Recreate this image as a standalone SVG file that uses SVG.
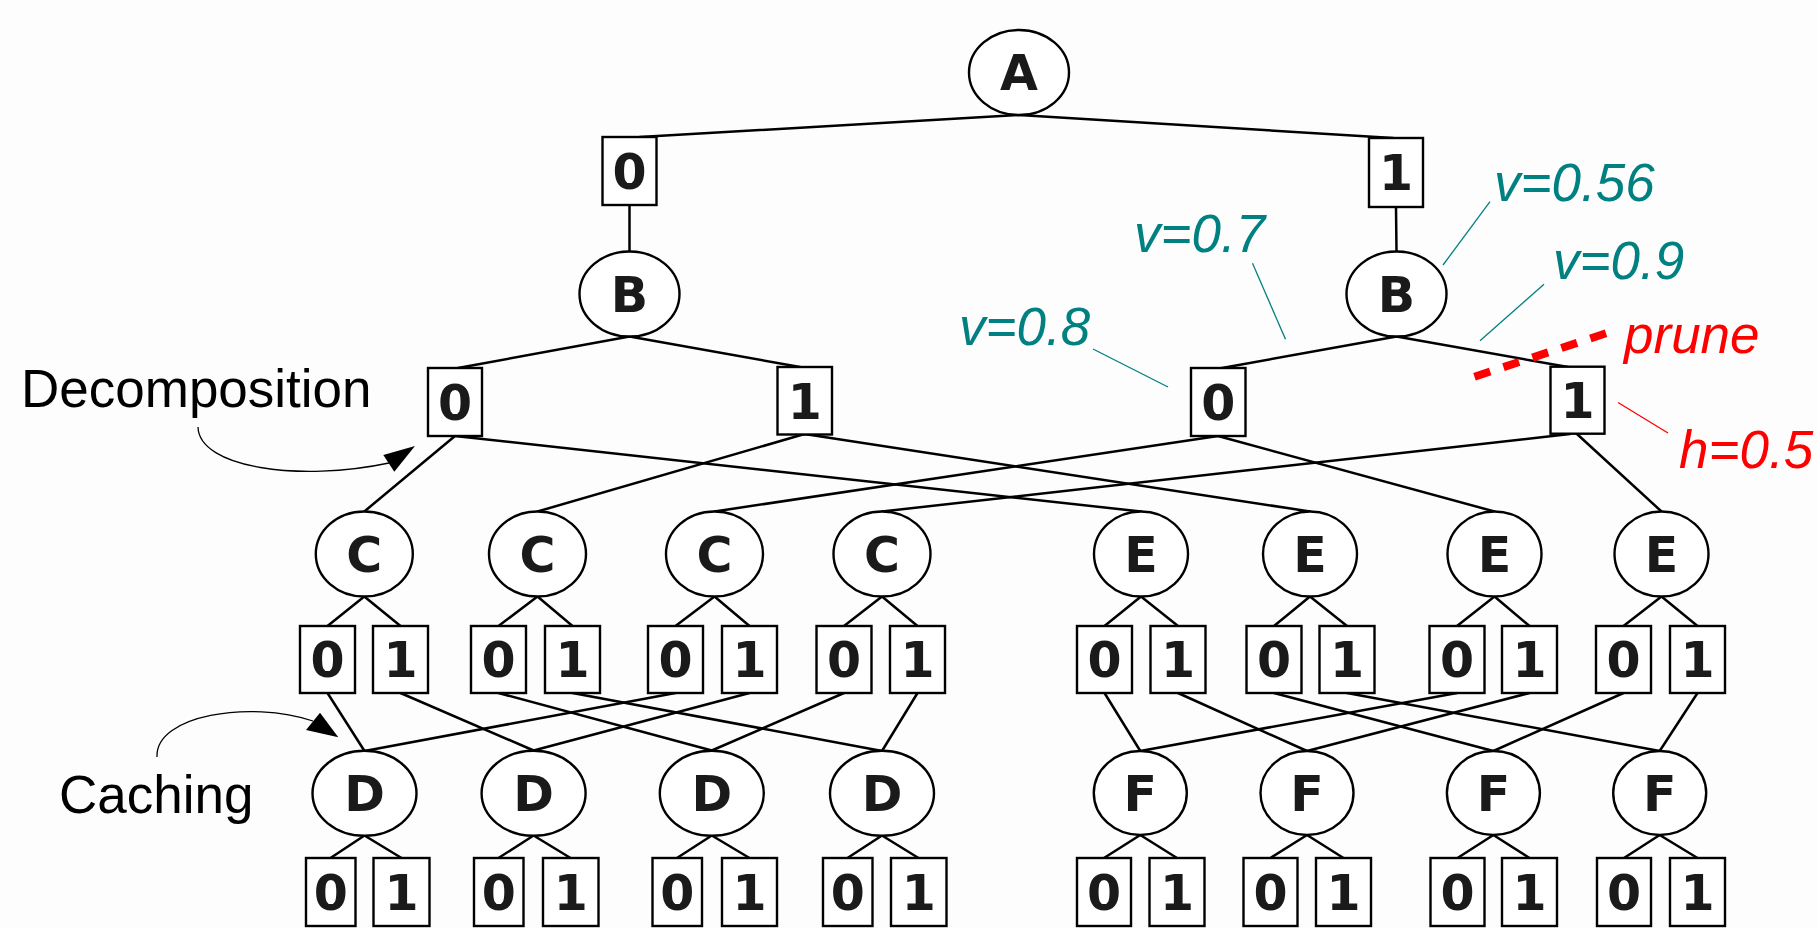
<svg xmlns="http://www.w3.org/2000/svg" width="1818" height="928" viewBox="0 0 1818 928">
  <defs>
    <style>
      .node ellipse, .node rect { fill: #ffffff; stroke: #000000; stroke-width: 2.4; }
      .node text { font-family: "DejaVu Sans", "Noto Sans", sans-serif; font-weight: bold; font-size: 49px; fill: #1a1a1a; text-anchor: middle; }
      .edges line { stroke: #000000; stroke-width: 2.5; stroke-linecap: round; }
      .note { font-family: "Liberation Sans", Arial, sans-serif; font-size: 53px; }
      .val { fill: #008080; font-style: italic; }
      .bad { fill: #ff0000; font-style: italic; }
      .lead { stroke: #008080; stroke-width: 1.3; }
      .lead-red { stroke: #ff0000; stroke-width: 1.3; }
      .callout { fill: none; stroke: #000000; stroke-width: 1.3; }
      .head { fill: #000000; stroke: none; }
    </style>
  </defs>
  <rect x="0" y="0" width="1818" height="928" fill="#fdfdfd"/>

  <!-- connectors -->
  <g class="edges">
    <!-- A to first-level values -->
    <line x1="1019" y1="115" x2="640" y2="137"/>
    <line x1="1019" y1="115" x2="1393" y2="138"/>
    <!-- values to B -->
    <line x1="629.5" y1="205" x2="629.5" y2="251.5"/>
    <line x1="1396" y1="207" x2="1396.5" y2="251.5"/>
    <!-- B to second-level values -->
    <line x1="629.5" y1="336.5" x2="458" y2="368"/>
    <line x1="629.5" y1="336.5" x2="800" y2="367"/>
    <line x1="1396.5" y1="336.5" x2="1222" y2="368"/>
    <line x1="1396.5" y1="336.5" x2="1568" y2="367"/>
    <!-- decomposition into C and E -->
    <line x1="455" y1="436" x2="364.3" y2="511.5"/>
    <line x1="455" y1="436" x2="1141" y2="511.5"/>
    <line x1="804.5" y1="434" x2="537.5" y2="511.5"/>
    <line x1="804.5" y1="434" x2="1310" y2="511.5"/>
    <line x1="1218" y1="436" x2="714.5" y2="511.5"/>
    <line x1="1218" y1="436" x2="1494.5" y2="511.5"/>
    <line x1="1570" y1="434" x2="882" y2="511.5"/>
    <line x1="1577" y1="434" x2="1661.5" y2="511.5"/>
    <!-- C to values -->
    <line x1="364.3" y1="596.5" x2="327.5" y2="626"/>
    <line x1="364.3" y1="596.5" x2="400.5" y2="626"/>
    <line x1="537.5" y1="596.5" x2="498.5" y2="626"/>
    <line x1="537.5" y1="596.5" x2="572.5" y2="626"/>
    <line x1="714.5" y1="596.5" x2="675.5" y2="626"/>
    <line x1="714.5" y1="596.5" x2="749.5" y2="626"/>
    <line x1="882" y1="596.5" x2="844" y2="626"/>
    <line x1="882" y1="596.5" x2="917.5" y2="626"/>
    <!-- E to values -->
    <line x1="1141" y1="596.5" x2="1104.5" y2="626"/>
    <line x1="1141" y1="596.5" x2="1178" y2="626"/>
    <line x1="1310" y1="596.5" x2="1274" y2="626"/>
    <line x1="1310" y1="596.5" x2="1347" y2="626"/>
    <line x1="1494.5" y1="596.5" x2="1457" y2="626"/>
    <line x1="1494.5" y1="596.5" x2="1529.5" y2="626"/>
    <line x1="1661.5" y1="596.5" x2="1623.5" y2="626"/>
    <line x1="1661.5" y1="596.5" x2="1697.5" y2="626"/>
    <!-- C values to cached D -->
    <line x1="327.5" y1="693" x2="364.5" y2="751"/>
    <line x1="400.5" y1="693" x2="533.6" y2="750.5"/>
    <line x1="498.5" y1="693" x2="711.8" y2="750.5"/>
    <line x1="572.5" y1="693" x2="882" y2="751"/>
    <line x1="675.5" y1="693" x2="364.5" y2="751"/>
    <line x1="749.5" y1="693" x2="533.6" y2="750.5"/>
    <line x1="844" y1="693" x2="711.8" y2="750.5"/>
    <line x1="917.5" y1="693" x2="882" y2="751"/>
    <!-- E values to cached F -->
    <line x1="1104.5" y1="693" x2="1140.3" y2="751"/>
    <line x1="1178" y1="693" x2="1307" y2="751"/>
    <line x1="1274" y1="693" x2="1493.4" y2="751"/>
    <line x1="1347" y1="693" x2="1659.7" y2="751"/>
    <line x1="1457" y1="693" x2="1140.3" y2="751"/>
    <line x1="1529.5" y1="693" x2="1307" y2="751"/>
    <line x1="1623.5" y1="693" x2="1493.4" y2="751"/>
    <line x1="1697.5" y1="693" x2="1659.7" y2="751"/>
    <!-- D to values -->
    <line x1="364.5" y1="835.5" x2="330.5" y2="858"/>
    <line x1="364.5" y1="835.5" x2="401.5" y2="858"/>
    <line x1="533.6" y1="835.5" x2="498.5" y2="858"/>
    <line x1="533.6" y1="835.5" x2="570.5" y2="858"/>
    <line x1="711.8" y1="835.5" x2="677" y2="858"/>
    <line x1="711.8" y1="835.5" x2="749.5" y2="858"/>
    <line x1="882" y1="835.5" x2="847.5" y2="858"/>
    <line x1="882" y1="835.5" x2="918.5" y2="858"/>
    <!-- F to values -->
    <line x1="1140.3" y1="835" x2="1104" y2="858"/>
    <line x1="1140.3" y1="835" x2="1177" y2="858"/>
    <line x1="1307" y1="835" x2="1270.5" y2="858"/>
    <line x1="1307" y1="835" x2="1343.5" y2="858"/>
    <line x1="1493.4" y1="835" x2="1457.5" y2="858"/>
    <line x1="1493.4" y1="835" x2="1529.5" y2="858"/>
    <line x1="1659.7" y1="835" x2="1624" y2="858"/>
    <line x1="1659.7" y1="835" x2="1697.5" y2="858"/>
  </g>

  <!-- variable nodes -->
  <g id="node-A" class="node"><ellipse cx="1019" cy="72.5" rx="50" ry="42.5"/><text x="1019" y="90.4">A</text></g>
  <g id="node-B0" class="node"><ellipse cx="629.5" cy="294" rx="50" ry="42.5"/><text x="629.5" y="311.9">B</text></g>
  <g id="node-B1" class="node"><ellipse cx="1396.5" cy="294" rx="50" ry="42.5"/><text x="1396.5" y="311.9">B</text></g>
  <g id="node-C1" class="node"><ellipse cx="364.3" cy="554" rx="48.5" ry="42.5"/><text x="364.3" y="571.9">C</text></g>
  <g id="node-C2" class="node"><ellipse cx="537.5" cy="554" rx="48.5" ry="42.5"/><text x="537.5" y="571.9">C</text></g>
  <g id="node-C3" class="node"><ellipse cx="714.5" cy="554" rx="48.5" ry="42.5"/><text x="714.5" y="571.9">C</text></g>
  <g id="node-C4" class="node"><ellipse cx="882" cy="554" rx="48.5" ry="42.5"/><text x="882" y="571.9">C</text></g>
  <g id="node-E1" class="node"><ellipse cx="1141" cy="554" rx="47" ry="42.5"/><text x="1141" y="571.9">E</text></g>
  <g id="node-E2" class="node"><ellipse cx="1310" cy="554" rx="47" ry="42.5"/><text x="1310" y="571.9">E</text></g>
  <g id="node-E3" class="node"><ellipse cx="1494.5" cy="554" rx="47" ry="42.5"/><text x="1494.5" y="571.9">E</text></g>
  <g id="node-E4" class="node"><ellipse cx="1661.5" cy="554" rx="47" ry="42.5"/><text x="1661.5" y="571.9">E</text></g>
  <g id="node-D1" class="node"><ellipse cx="364.5" cy="793.3" rx="52" ry="42.5"/><text x="364.5" y="811.2">D</text></g>
  <g id="node-D2" class="node"><ellipse cx="533.6" cy="793.3" rx="52" ry="42.5"/><text x="533.6" y="811.2">D</text></g>
  <g id="node-D3" class="node"><ellipse cx="711.8" cy="793.3" rx="52" ry="42.5"/><text x="711.8" y="811.2">D</text></g>
  <g id="node-D4" class="node"><ellipse cx="882" cy="793.3" rx="52" ry="42.5"/><text x="882" y="811.2">D</text></g>
  <g id="node-F1" class="node"><ellipse cx="1140.3" cy="793" rx="46.5" ry="42"/><text x="1140.3" y="810.9">F</text></g>
  <g id="node-F2" class="node"><ellipse cx="1307" cy="793" rx="46.5" ry="42"/><text x="1307" y="810.9">F</text></g>
  <g id="node-F3" class="node"><ellipse cx="1493.4" cy="793" rx="46.5" ry="42"/><text x="1493.4" y="810.9">F</text></g>
  <g id="node-F4" class="node"><ellipse cx="1659.7" cy="793" rx="46.5" ry="42"/><text x="1659.7" y="810.9">F</text></g>

  <!-- value nodes, first and second level -->
  <g id="val-A0" class="node"><rect x="602.5" y="137" width="54" height="68"/><text x="629.5" y="188.9">0</text></g>
  <g id="val-A1" class="node"><rect x="1369" y="138" width="54" height="69"/><text x="1396" y="190.4">1</text></g>
  <g id="val-B0-0" class="node"><rect x="428" y="368" width="54" height="68"/><text x="455" y="419.9">0</text></g>
  <g id="val-B0-1" class="node"><rect x="777.5" y="367" width="54.5" height="67.5"/><text x="804.7" y="418.6">1</text></g>
  <g id="val-B1-0" class="node"><rect x="1191" y="368" width="54.5" height="68"/><text x="1218.2" y="419.9">0</text></g>
  <g id="val-B1-1" class="node"><rect x="1550.5" y="366.7" width="54" height="67"/><text x="1577.5" y="418.1">1</text></g>

  <!-- value nodes under C -->
  <g id="val-C1-0" class="node"><rect x="300" y="626" width="55" height="67"/><text x="327.5" y="677.4">0</text></g>
  <g id="val-C1-1" class="node"><rect x="373" y="626" width="55" height="67"/><text x="400.5" y="677.4">1</text></g>
  <g id="val-C2-0" class="node"><rect x="471" y="626" width="55" height="67"/><text x="498.5" y="677.4">0</text></g>
  <g id="val-C2-1" class="node"><rect x="545" y="626" width="55" height="67"/><text x="572.5" y="677.4">1</text></g>
  <g id="val-C3-0" class="node"><rect x="648" y="626" width="55" height="67"/><text x="675.5" y="677.4">0</text></g>
  <g id="val-C3-1" class="node"><rect x="722" y="626" width="55" height="67"/><text x="749.5" y="677.4">1</text></g>
  <g id="val-C4-0" class="node"><rect x="816.5" y="626" width="55" height="67"/><text x="844" y="677.4">0</text></g>
  <g id="val-C4-1" class="node"><rect x="890" y="626" width="55" height="67"/><text x="917.5" y="677.4">1</text></g>

  <!-- value nodes under E -->
  <g id="val-E1-0" class="node"><rect x="1077" y="626" width="55" height="67"/><text x="1104.5" y="677.4">0</text></g>
  <g id="val-E1-1" class="node"><rect x="1150.5" y="626" width="55" height="67"/><text x="1178" y="677.4">1</text></g>
  <g id="val-E2-0" class="node"><rect x="1246.5" y="626" width="55" height="67"/><text x="1274" y="677.4">0</text></g>
  <g id="val-E2-1" class="node"><rect x="1319.5" y="626" width="55" height="67"/><text x="1347" y="677.4">1</text></g>
  <g id="val-E3-0" class="node"><rect x="1429.5" y="626" width="55" height="67"/><text x="1457" y="677.4">0</text></g>
  <g id="val-E3-1" class="node"><rect x="1502" y="626" width="55" height="67"/><text x="1529.5" y="677.4">1</text></g>
  <g id="val-E4-0" class="node"><rect x="1596" y="626" width="55" height="67"/><text x="1623.5" y="677.4">0</text></g>
  <g id="val-E4-1" class="node"><rect x="1670" y="626" width="55" height="67"/><text x="1697.5" y="677.4">1</text></g>

  <!-- value nodes under D -->
  <g id="val-D1-0" class="node"><rect x="306" y="858" width="49.5" height="68"/><text x="330.7" y="910.2">0</text></g>
  <g id="val-D1-1" class="node"><rect x="373.5" y="858" width="56" height="68"/><text x="401.5" y="910.2">1</text></g>
  <g id="val-D2-0" class="node"><rect x="474" y="858" width="49.5" height="68"/><text x="498.7" y="910.2">0</text></g>
  <g id="val-D2-1" class="node"><rect x="543" y="858" width="55.5" height="68"/><text x="570.7" y="910.2">1</text></g>
  <g id="val-D3-0" class="node"><rect x="652.5" y="858" width="49.5" height="68"/><text x="677.2" y="910.2">0</text></g>
  <g id="val-D3-1" class="node"><rect x="722" y="858" width="55" height="68"/><text x="749.5" y="910.2">1</text></g>
  <g id="val-D4-0" class="node"><rect x="823" y="858" width="49.5" height="68"/><text x="847.7" y="910.2">0</text></g>
  <g id="val-D4-1" class="node"><rect x="891" y="858" width="55.5" height="68"/><text x="918.7" y="910.2">1</text></g>

  <!-- value nodes under F -->
  <g id="val-F1-0" class="node"><rect x="1077" y="858" width="54" height="68"/><text x="1104" y="910.2">0</text></g>
  <g id="val-F1-1" class="node"><rect x="1149.5" y="858" width="55" height="68"/><text x="1177" y="910.2">1</text></g>
  <g id="val-F2-0" class="node"><rect x="1243.5" y="858" width="54" height="68"/><text x="1270.5" y="910.2">0</text></g>
  <g id="val-F2-1" class="node"><rect x="1316" y="858" width="55" height="68"/><text x="1343.5" y="910.2">1</text></g>
  <g id="val-F3-0" class="node"><rect x="1430.5" y="858" width="54" height="68"/><text x="1457.5" y="910.2">0</text></g>
  <g id="val-F3-1" class="node"><rect x="1502" y="858" width="55" height="68"/><text x="1529.5" y="910.2">1</text></g>
  <g id="val-F4-0" class="node"><rect x="1597" y="858" width="54" height="68"/><text x="1624" y="910.2">0</text></g>
  <g id="val-F4-1" class="node"><rect x="1670" y="858" width="55" height="68"/><text x="1697.5" y="910.2">1</text></g>

  <!-- value annotations -->
  <g id="annotations">
    <line class="lead" x1="1490" y1="201.7" x2="1443" y2="265"/>
    <line class="lead" x1="1252.5" y1="263.3" x2="1285.5" y2="339.3"/>
    <line class="lead" x1="1544" y1="284.3" x2="1480" y2="340.7"/>
    <line class="lead" x1="1093" y1="349" x2="1168" y2="387"/>
    <line class="lead-red" x1="1618" y1="402.5" x2="1668" y2="433"/>
    <text class="note val" x="1494" y="200.7">v=0.56</text>
    <text class="note val" x="1134" y="252">v=0.7</text>
    <text class="note val" x="1553" y="279">v=0.9</text>
    <text class="note val" x="959" y="345">v=0.8</text>
    <text class="note bad" x="1624" y="353.3">prune</text>
    <text class="note bad" x="1679" y="468">h=0.5</text>
    <line x1="1474.5" y1="376.7" x2="1606" y2="333.3" stroke="#ff0000" stroke-width="8" stroke-dasharray="16.5 14"/>
  </g>

  <!-- side labels -->
  <g id="label-decomposition">
    <text class="note" x="21" y="407" fill="#000000">Decomposition</text>
    <path class="callout" d="M198,427 C199,468 300,482 389,463"/>
    <polygon class="head" points="415,446 383.3,455 394.3,471.7"/>
  </g>
  <g id="label-caching">
    <text class="note" x="59" y="813" fill="#000000">Caching</text>
    <path class="callout" d="M157,757 C155,715 250,700 313,721"/>
    <polygon class="head" points="338.3,737.3 320,712.7 306,730"/>
  </g>
</svg>
